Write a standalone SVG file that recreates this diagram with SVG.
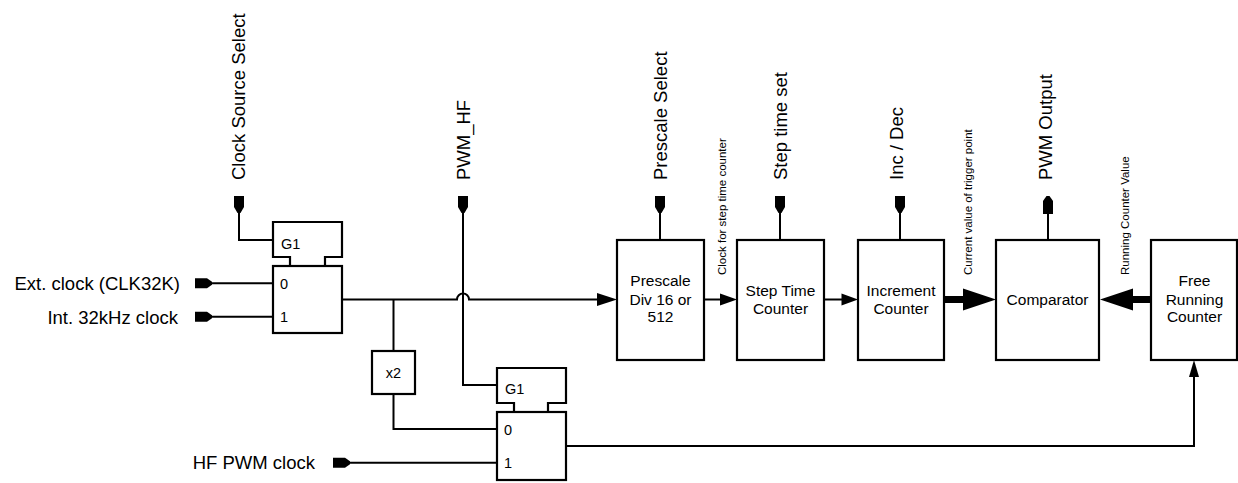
<svg xmlns="http://www.w3.org/2000/svg" xmlns:xlink="http://www.w3.org/1999/xlink" width="1238" height="483" viewBox="0 0 1238 483">
<style>
.box{fill:#fff;stroke:#000;stroke-width:2.2}
.ln{fill:none;stroke:#000;stroke-width:2}
.thick{fill:none;stroke:#000;stroke-width:7}
.pin{fill:#000;stroke:none}
.head{fill:#000;stroke:none}
.lbl{font-family:"Liberation Sans",Arial,sans-serif;font-size:18.5px;fill:#000}
.btx{font-family:"Liberation Sans",Arial,sans-serif;font-size:15.5px;fill:#000;text-anchor:middle}
.sm{font-family:"Liberation Sans",Arial,sans-serif;font-size:14.5px;fill:#000}
.tiny{font-family:"Liberation Sans",Arial,sans-serif;font-size:11.5px;fill:#000}
</style>
<defs>
<path id="pinDown" d="M-5,0 H5 V11 L1.5,17 H-1.5 L-5,11 Z"/>
<path id="pinUp" d="M-1.5,0 H1.5 L5,5 V18 H-5 V5 Z"/>
<path id="pinRight" d="M0,-5 H12 L17,-1.5 V1.5 L12,5 H0 Z"/>
</defs>

<g id="connectors">
  <!-- clock source select to G1 -->
  <polyline class="ln" points="239,212 239,240 273,240"/>
  <!-- ext / int clocks -->
  <line class="ln" x1="211" y1="283.3" x2="273" y2="283.3"/>
  <line class="ln" x1="211" y1="316.7" x2="273" y2="316.7"/>
  <!-- main line mux1 -> prescale with hop -->
  <path class="ln" d="M342,299.5 H457 A6,6 0 0 1 469,299.5 H598"/>
  <path class="head" d="M617,299.5 L597,293 L597,306 Z"/>
  <!-- branch to x2 -->
  <line class="ln" x1="393.5" y1="299.5" x2="393.5" y2="351"/>
  <polyline class="ln" points="393.5,394 393.5,429 497,429"/>
  <!-- PWM_HF -->
  <polyline class="ln" points="463,212 463,385 497,385"/>
  <!-- HF PWM clock -->
  <line class="ln" x1="349" y1="462.7" x2="497" y2="462.7"/>
  <!-- mux2 out -> free running counter -->
  <polyline class="ln" points="566,446 1194,446 1194,376"/>
  <path class="head" d="M1194,360 L1189,377 L1199,377 Z"/>
  <!-- prescale -> step time -->
  <line class="ln" x1="704" y1="299.5" x2="721" y2="299.5"/>
  <path class="head" d="M737,299.5 L720,293.5 L720,305.5 Z"/>
  <!-- step time -> increment -->
  <line class="ln" x1="824" y1="299.5" x2="843" y2="299.5"/>
  <path class="head" d="M858,299.5 L841.5,293.5 L841.5,305.5 Z"/>
  <!-- increment -> comparator (thick) -->
  <line class="thick" x1="944" y1="299.5" x2="965" y2="299.5"/>
  <path class="head" d="M996,299.5 L963,288.5 L963,310.5 Z"/>
  <!-- free running -> comparator (thick) -->
  <line class="thick" x1="1151" y1="299.5" x2="1131" y2="299.5"/>
  <path class="head" d="M1100,299.5 L1133,288.5 L1133,310.5 Z"/>
  <!-- pin stems -->
  <line class="ln" x1="660" y1="212" x2="660" y2="240"/>
  <line class="ln" x1="780" y1="212" x2="780" y2="240"/>
  <line class="ln" x1="900" y1="212" x2="900" y2="240"/>
  <line class="ln" x1="1048" y1="213" x2="1048" y2="240"/>
</g>

<g id="clock-source-select">
  <use xlink:href="#pinDown" href="#pinDown" x="239" y="196"/>
  <text class="lbl" transform="translate(245,180) rotate(-90)">Clock Source Select</text>
</g>
<g id="pwm-hf">
  <use xlink:href="#pinDown" href="#pinDown" x="463" y="196"/>
  <text class="lbl" transform="translate(470,180) rotate(-90)">PWM_HF</text>
</g>
<g id="ext-clock">
  <use xlink:href="#pinRight" href="#pinRight" x="195" y="283.3"/>
  <text class="lbl" x="180" y="290" text-anchor="end">Ext. clock (CLK32K)</text>
</g>
<g id="int-clock">
  <use xlink:href="#pinRight" href="#pinRight" x="195" y="316.7"/>
  <text class="lbl" x="178" y="323.5" text-anchor="end">Int. 32kHz clock</text>
</g>
<g id="hf-pwm-clock">
  <use xlink:href="#pinRight" href="#pinRight" x="333" y="462.7"/>
  <text class="lbl" x="315" y="469" text-anchor="end">HF PWM clock</text>
</g>

<g id="mux1">
  <path class="box" d="M290,266 V257 H273 V222 H342 V257 H325 V266"/>
  <text class="sm" x="281" y="249">G1</text>
  <rect class="box" x="273" y="266" width="69" height="67"/>
  <text class="sm" x="280" y="289">0</text>
  <text class="sm" x="280" y="322">1</text>
</g>

<g id="x2">
  <rect class="box" x="372" y="351" width="43" height="43"/>
  <text class="sm" x="393.5" y="378" text-anchor="middle">x2</text>
</g>

<g id="mux2">
  <path class="box" d="M514,412 V403 H497 V368 H566 V403 H548 V412"/>
  <text class="sm" x="505" y="394">G1</text>
  <rect class="box" x="497" y="412" width="69" height="68"/>
  <text class="sm" x="504" y="434.5">0</text>
  <text class="sm" x="504" y="468">1</text>
</g>

<g id="prescale">
  <use xlink:href="#pinDown" href="#pinDown" x="660" y="196"/>
  <text class="lbl" transform="translate(666.6,180) rotate(-90)">Prescale Select</text>
  <rect class="box" x="617" y="240" width="87" height="120"/>
  <text class="btx" x="660.5" y="285.5">Prescale</text>
  <text class="btx" x="660.5" y="304.5">Div 16 or</text>
  <text class="btx" x="660.5" y="322">512</text>
  <text class="tiny" transform="translate(725.8,275) rotate(-90)">Clock for step time counter</text>
</g>

<g id="step-time-counter">
  <use xlink:href="#pinDown" href="#pinDown" x="780" y="196"/>
  <text class="lbl" transform="translate(786.6,180) rotate(-90)">Step time set</text>
  <rect class="box" x="737" y="240" width="87" height="120"/>
  <text class="btx" x="780.5" y="296">Step Time</text>
  <text class="btx" x="780.5" y="314">Counter</text>
</g>

<g id="increment-counter">
  <use xlink:href="#pinDown" href="#pinDown" x="900" y="196"/>
  <text class="lbl" transform="translate(903.3,180) rotate(-90)">Inc / Dec</text>
  <rect class="box" x="858" y="240" width="86" height="120"/>
  <text class="btx" x="901" y="296">Increment</text>
  <text class="btx" x="901" y="314">Counter</text>
  <text class="tiny" transform="translate(972.4,275) rotate(-90)">Current value of trigger point</text>
</g>

<g id="comparator">
  <use xlink:href="#pinUp" href="#pinUp" x="1048" y="196"/>
  <text class="lbl" transform="translate(1051.6,180) rotate(-90)">PWM Output</text>
  <rect class="box" x="996" y="240" width="103" height="120"/>
  <text class="btx" x="1047.5" y="305">Comparator</text>
</g>

<g id="free-running-counter">
  <rect class="box" x="1151" y="240" width="86" height="120"/>
  <text class="btx" x="1194.5" y="285.5">Free</text>
  <text class="btx" x="1194.5" y="304.5">Running</text>
  <text class="btx" x="1194.5" y="322">Counter</text>
  <text class="tiny" transform="translate(1128.5,275) rotate(-90)">Running Counter Value</text>
</g>
</svg>
